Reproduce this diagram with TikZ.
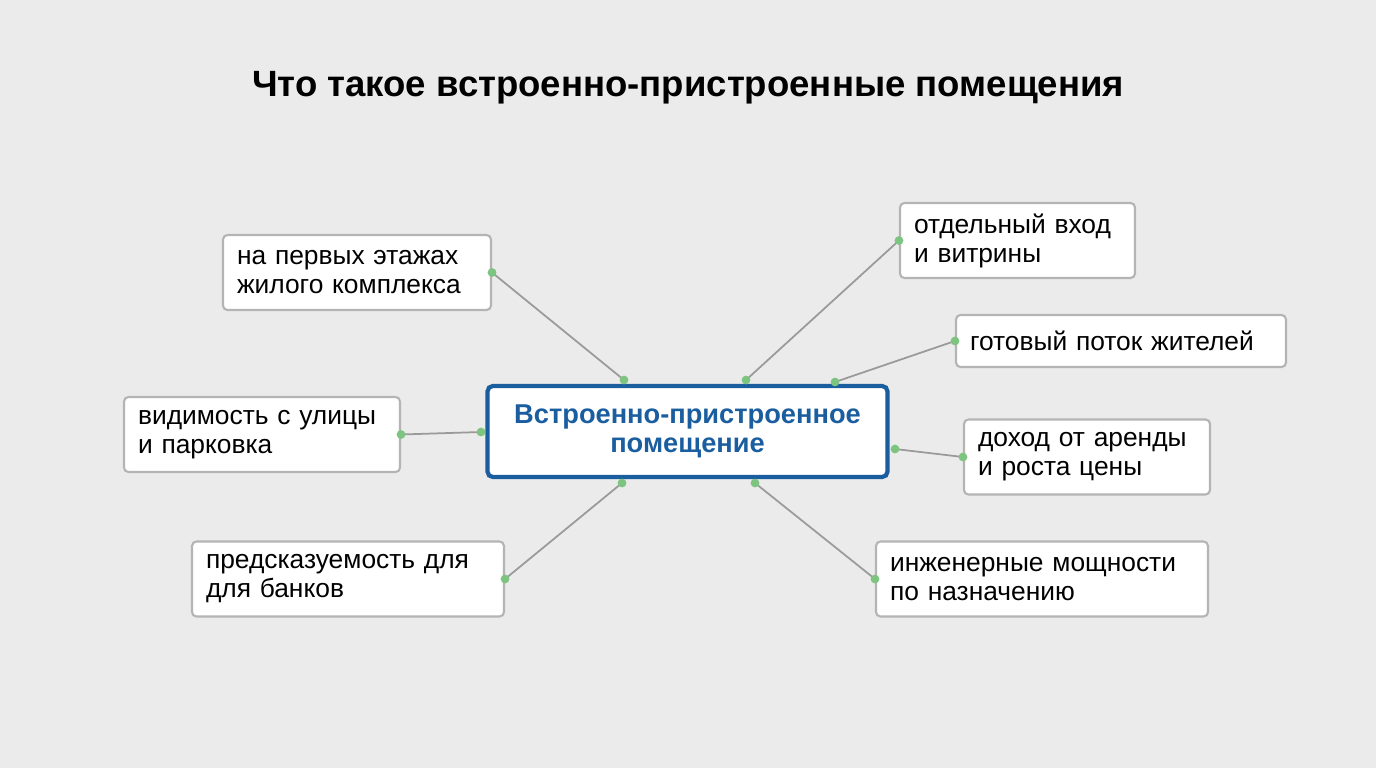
\documentclass[tikz,border=0pt]{standalone}
\usepackage{fontspec}
\setmainfont{Liberation Sans}
\definecolor{bgc}{HTML}{EBEBEB}
\definecolor{boxline}{HTML}{B4B4B4}
\definecolor{hubblue}{HTML}{1A5EA0}
\definecolor{linkc}{HTML}{9A9A9A}
\definecolor{dotc}{HTML}{7CC47F}
\begin{document}
\begin{tikzpicture}[x=0.02cm,y=-0.02cm,
    leaf/.style={draw=boxline, line width=1.2pt, fill=white, rounded corners=2.5pt,
      align=left, inner xsep=0.28cm, minimum height=1.5cm,
      font=\fontsize{15}{16.5}\selectfont},
    hub/.style={draw=hubblue, line width=2.4pt, fill=white, rounded corners=3pt,
      align=center, minimum width=8cm, minimum height=1.82cm, text=hubblue,
      font=\fontsize{15.5}{16.5}\selectfont\bfseries},
    link/.style={draw=linkc, line width=1pt},
    dot/.style={circle, fill=dotc, inner sep=0pt, minimum size=5pt}]
  \fill[bgc] (0,0) rectangle (1376,768);
  \node (title) at (688,88) {\fontsize{20.8}{24}\selectfont\bfseries Что такое встроенно-пристроенные помещения};

  % central box
  \node[hub] (hub) at (687.5,431.5) {Встроенно-пристроенное\\помещение};

  % left side
  \node[leaf, text width=4.80cm] (floors) at (357,272.5) {на первых этажах\\жилого комплекса};
  \node[leaf, text width=4.96cm] (street) at (262,434.5) {видимость с улицы\\и парковка};
  \node[leaf, text width=5.68cm] (banks) at (348,579) {предсказуемость для\\для банков};

  % right side
  \node[leaf, text width=4.14cm] (entry) at (1017.5,240.5) {отдельный вход\\и витрины};
  \node[leaf, text width=6.04cm, minimum height=1.04cm] (flow) at (1121,341) {готовый поток жителей};
  \node[leaf, text width=4.36cm] (rent) at (1087,457) {доход от аренды\\и роста цены};
  \node[leaf, text width=6.08cm] (power) at (1042,579) {инженерные мощности\\по назначению};

  % ends on the hub
  \coordinate (h1) at (624,380);
  \coordinate (h2) at (481,432);
  \coordinate (h3) at (622,483);
  \coordinate (h4) at (746,380);
  \coordinate (h5) at (835,382);
  \coordinate (h6) at (895,449);
  \coordinate (h7) at (755,483);

  \foreach \a/\b in {floors.east/h1, street.east/h2, banks.east/h3,
      entry.west/h4, flow.west/h5, rent.west/h6, power.west/h7} {
    \draw[link] (\a) -- (\b);
    \node[dot] at (\a) {};
    \node[dot] at (\b) {};
  }
\end{tikzpicture}
\end{document}
